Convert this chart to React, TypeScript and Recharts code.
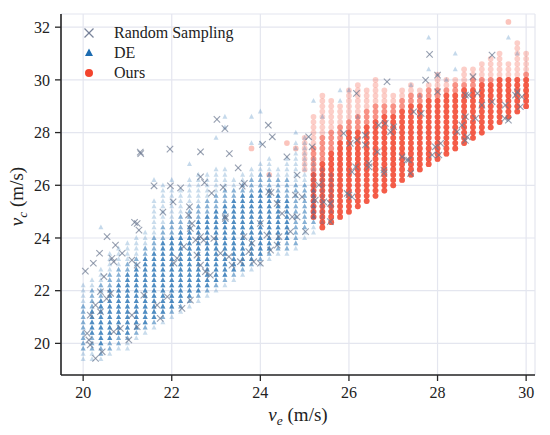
import React from 'react';
import { ScatterChart, Scatter, XAxis, YAxis, CartesianGrid, Legend } from 'recharts';

const X_TICKS = [20, 22, 24, 26, 28, 30];
const Y_TICKS = [20, 22, 24, 26, 28, 30, 32];
const GRID_STEP = 0.2;

// DE: grid columns (x) with lowest / highest y of the light, medium and dense parts
const DE_COL_X = [20.0, 20.2, 20.4, 20.6, 20.8, 21.0, 21.2, 21.4, 21.6, 21.8, 22.0, 22.2, 22.4, 22.6, 22.8, 23.0, 23.2, 23.4, 23.6, 23.8, 24.0, 24.2, 24.4, 24.6, 24.8, 25.0, 25.2, 25.4, 25.6];
const DE_LO = [19.4, 19.4, 19.4, 19.6, 19.8, 19.8, 20.2, 20.4, 20.6, 20.8, 21.0, 21.2, 21.4, 21.6, 21.8, 22.0, 22.2, 22.4, 22.6, 22.8, 23.0, 23.2, 23.4, 23.4, 23.6, 24.0, 24.2, 24.6, 25.0];
const DE_HI = [22.2, 22.4, 22.8, 23.4, 23.6, 23.8, 24.0, 24.2, 25.4, 26.0, 25.8, 25.8, 26.2, 26.4, 26.4, 26.6, 26.6, 26.2, 26.4, 26.6, 26.8, 27.0, 26.6, 27.0, 27.6, 27.8, 27.0, 26.6, 26.4];
const DE_MID_LO = [19.8, 19.8, 19.6, 19.8, 20.0, 20.2, 20.4, 20.6, 20.8, 21.0, 21.2, 21.4, 21.6, 21.8, 22.0, 22.2, 22.4, 22.6, 22.8, 23.0, 23.2, 23.4, 23.6, 23.6, 23.8, 24.4, 24.6, null, null];
const DE_MID_HI = [21.4, 22.0, 22.2, 22.6, 22.8, 23.0, 23.2, 23.6, 24.0, 24.4, 24.6, 24.8, 25.0, 25.2, 25.4, 25.6, 25.8, 25.8, 26.0, 26.2, 26.4, 26.4, 26.2, 26.2, 26.0, 26.0, 25.8, null, null];
const DE_CORE_LO = [null, 20.4, 20.0, 20.2, 20.4, 20.4, 20.6, 20.8, 21.0, 21.2, 21.4, 21.6, 21.8, 22.0, 22.2, 22.4, 22.6, 22.8, 23.0, 23.2, 23.4, 23.6, 23.8, 24.0, null, null, null, null, null];
const DE_CORE_HI = [null, 21.2, 21.6, 22.0, 22.2, 22.6, 22.8, 23.2, 23.4, 23.8, 24.0, 24.2, 24.4, 24.6, 24.8, 25.0, 25.2, 25.4, 25.6, 25.6, 25.8, 25.8, 25.6, 25.4, null, null, null, null, null];
const DE_EXTRA_X = [20.4, 21.6, 22.4, 22.0, 23.0, 23.2, 23.2, 23.8, 23.8, 24.0, 24.0, 24.8, 25.2, 25.4, 25.8, 25.8, 26.2, 26.0, 27.4, 27.6, 27.8, 27.8, 28.0, 28.2, 28.4, 28.4, 29.6, 29.8];
const DE_EXTRA_Y = [24.4, 26.2, 26.8, 26.2, 27.8, 28.6, 28.2, 28.6, 27.6, 28.8, 27.6, 28.0, 29.2, 28.6, 29.6, 29.2, 28.6, 29.6, 29.8, 29.4, 31.6, 30.4, 30.2, 30.0, 31.0, 30.4, 31.6, 31.0];

// Ours: grid columns
const OURS_COL_X = [25.0, 25.2, 25.4, 25.6, 25.8, 26.0, 26.2, 26.4, 26.6, 26.8, 27.0, 27.2, 27.4, 27.6, 27.8, 28.0, 28.2, 28.4, 28.6, 28.8, 29.0, 29.2, 29.4, 29.6, 29.8, 30.0];
const OURS_LO = [26.6, 24.8, 24.4, 24.6, 24.8, 25.0, 25.2, 25.4, 25.6, 25.8, 26.0, 26.2, 26.4, 26.6, 26.8, 27.0, 27.2, 27.4, 27.6, 27.8, 28.0, 28.2, 28.4, 28.6, 28.8, 29.0];
const OURS_HI = [27.8, 28.6, 29.4, 29.2, 29.0, 29.6, 29.8, 29.6, 30.0, 29.6, 29.4, 29.6, 29.8, 29.6, 29.8, 30.2, 30.0, 30.0, 30.4, 30.4, 30.6, 30.8, 31.0, 30.6, 31.4, 31.0];
const OURS_MID_HI = [null, 27.4, 27.8, 28.0, 28.2, 28.4, 28.6, 28.8, 29.0, 29.0, 29.0, 29.2, 29.4, 29.4, 29.6, 29.6, 29.6, 29.8, 29.8, 30.0, 30.0, 30.0, 30.0, 30.0, 30.0, 30.2];
const OURS_CORE_HI = [null, 26.4, 26.8, 27.2, 27.6, 28.0, 28.0, 28.2, 28.4, 28.6, 28.6, 28.8, 29.0, 29.0, 29.2, 29.2, 29.4, 29.4, 29.6, 29.6, 29.8, 29.8, 30.0, 30.0, 30.0, 30.0];
const OURS_EXTRA_X = [23.8, 24.2, 24.6, 24.8, 29.6];
const OURS_EXTRA_Y = [27.4, 26.4, 27.6, 27.4, 32.2];

// Random Sampling
const RS_X = [20.05, 20.23, 20.37, 20.54, 20.73, 20.88, 20.69, 21.16, 21.22, 21.1, 21.22, 20.47, 20.39, 20.62, 20.53, 20.28, 20.39, 20.16, 20.09, 20.13, 20.16, 20.28, 20.43, 20.69, 20.84, 21.03, 21.1, 21.22, 21.37, 21.67, 21.9, 21.74, 22.05, 22.12, 22.27, 22.23, 22.42, 22.65, 22.76, 22.87, 22.57, 22.72, 22.95, 22.42, 23.21, 23.55, 23.74, 23.85, 24.15, 20.65, 21.26,
  21.29, 21.3, 21.96, 23.02, 23.2, 23.3, 22.65, 21.6, 21.97, 22.2, 22.03, 21.8, 22.65, 22.74, 22.9, 23.16, 23.5, 23.64, 24.05, 24.18, 24.27, 24.24, 22.4, 22.38, 22.46, 23.21, 22.65, 22.54, 23.1, 23.29, 23.36, 23.81, 24.0, 23.63, 24.0, 24.42, 24.23, 24.38, 23.59, 24.19, 24.38, 24.68, 24.83,
  26.17, 26.86, 27.82, 27.73, 28.0, 28.0, 29.23, 28.8, 28.7, 29.0, 29.6, 29.8, 29.87, 28.63, 28.67, 28.44, 27.95, 27.88, 27.63, 27.46, 27.35, 27.39, 27.2, 27.01, 26.82, 26.67, 26.64, 26.79, 26.45, 26.37, 26.18, 26.03, 25.88, 26.15, 26.07, 25.96, 25.17, 25.09, 25.32, 25.24, 25.58, 24.6, 24.83, 24.49,
  28.63, 28.9, 29.23, 29.53, 29.76, 29.9, 29.52, 28.86, 28.55, 28.63, 28.03, 28.07, 26.37, 26.94, 26.45, 26.79, 27.31, 26.07, 26.0, 25.43, 25.58, 24.79, 24.94, 24.72, 25.02];
const RS_Y = [22.74, 23.04, 23.42, 24.05, 23.73, 23.42, 23.1, 24.59, 24.55, 23.16, 22.97, 22.53, 21.96, 21.9, 21.7, 21.45, 21.2, 21.07, 20.38, 20.13, 19.94, 19.43, 19.68, 20.44, 20.57, 20.13, 21.07, 20.63, 21.83, 21.45, 21.77, 20.95, 23.04, 23.23, 23.67, 21.33, 21.64, 22.97, 22.72, 22.59, 23.35, 23.92, 23.98, 24.36, 24.74, 23.1, 23.48, 23.1, 24.11, 23.23, 24.3,
  27.26, 27.2, 27.37, 28.5, 28.15, 27.2, 27.27, 25.98, 25.98, 25.9, 25.37, 24.98, 26.32, 26.1, 25.7, 25.92, 26.66, 26.07, 27.55, 28.28, 27.84, 25.72, 25.18, 24.87, 24.55, 24.8, 24.05, 23.92, 23.42, 23.29, 22.97, 23.8, 23.04, 24.05, 24.55, 24.05, 23.54, 23.73, 25.97, 25.75, 25.31, 24.24, 24.8,
  29.49, 29.93, 30.97, 29.99, 30.18, 29.55, 30.94, 30.12, 29.42, 29.04, 28.47, 29.55, 28.98, 28.6, 27.84, 28.03, 27.46, 27.15, 28.73, 28.79, 26.96, 26.45, 27.08, 28.22, 28.35, 28.28, 27.27, 26.45, 26.83, 27.9, 27.71, 27.59, 27.97, 26.7, 25.56, 25.69, 27.46, 27.84, 26.01, 25.44, 25.31, 27.08, 26.39, 24.93,
  29.42, 29.49, 29.17, 29.04, 29.42, 29.36, 28.54, 28.54, 28.28, 27.7, 27.15, 27.59, 27.53, 28.03, 26.7, 26.58, 26.96, 26.51, 25.63, 25.37, 24.62, 25.63, 25.56, 24.8, 24.24];

const LEGEND_ITEMS = [
  { label: 'Random Sampling', kind: 'x' },
  { label: 'DE', kind: 'tri' },
  { label: 'Ours', kind: 'circle' },
];

const BLUE = '#1d6cb1';
const RED = '#f23a22';
const GRAY = '#6b7890';
const FONT = '"Liberation Serif", "Times New Roman", serif';

function columnPoints(xs: number[], lo: (number | null)[], hi: (number | null)[]) {
  const pts: { x: number; y: number }[] = [];
  xs.forEach((x, i) => {
    const a = lo[i];
    const b = hi[i];
    if (a == null || b == null) return;
    const n = Math.round((b - a) / GRID_STEP);
    for (let k = 0; k <= n; k++) pts.push({ x, y: +(a + k * GRID_STEP).toFixed(1) });
  });
  return pts;
}

function pairPoints(xs: number[], ys: number[]) {
  return xs.map((x, i) => ({ x, y: ys[i] }));
}

const deAll = columnPoints(DE_COL_X, DE_LO, DE_HI);
const deMid = columnPoints(DE_COL_X, DE_MID_LO, DE_MID_HI);
const deCore = columnPoints(DE_COL_X, DE_CORE_LO, DE_CORE_HI);
const deExtra = pairPoints(DE_EXTRA_X, DE_EXTRA_Y);
const oursAll = columnPoints(OURS_COL_X, OURS_LO, OURS_HI);
const oursMid = columnPoints(OURS_COL_X, OURS_LO, OURS_MID_HI);
const oursCore = columnPoints(OURS_COL_X, OURS_LO, OURS_CORE_HI);
const oursExtra = pairPoints(OURS_EXTRA_X, OURS_EXTRA_Y);
const rsPts = pairPoints(RS_X, RS_Y);

const triShape = (op: number) => (p: any) => {
  const { cx, cy } = p;
  if (cx == null || cy == null) return <g />;
  return <path d={`M${cx},${cy - 2.9} L${cx + 2.5},${cy + 1.9} L${cx - 2.5},${cy + 1.9} Z`} fill={BLUE} fillOpacity={op} />;
};
const circShape = (op: number) => (p: any) => {
  const { cx, cy } = p;
  if (cx == null || cy == null) return <g />;
  return <circle cx={cx} cy={cy} r={2.85} fill={RED} fillOpacity={op} />;
};
const xShape = (p: any) => {
  const { cx, cy } = p;
  if (cx == null || cy == null) return <g />;
  const s = 3.2;
  return (
    <g stroke={GRAY} strokeOpacity={0.7} strokeWidth={1.1}>
      <line x1={cx - s} y1={cy - s} x2={cx + s} y2={cy + s} />
      <line x1={cx - s} y1={cy + s} x2={cx + s} y2={cy - s} />
    </g>
  );
};

const renderLegend = () => (
  <svg width={160} height={62} style={{ display: 'block' }}>
    {LEGEND_ITEMS.map((it, i) => {
      const cy = 10 + i * 20;
      const cx = 9;
      let marker;
      if (it.kind === 'x') {
        marker = (
          <g stroke={GRAY} strokeWidth={1.3} strokeOpacity={0.9}>
            <line x1={cx - 4.5} y1={cy - 4.5} x2={cx + 4.5} y2={cy + 4.5} />
            <line x1={cx - 4.5} y1={cy + 4.5} x2={cx + 4.5} y2={cy - 4.5} />
          </g>
        );
      } else if (it.kind === 'tri') {
        marker = <path d={`M${cx},${cy - 4.5} L${cx + 4},${cy + 3} L${cx - 4},${cy + 3} Z`} fill={BLUE} />;
      } else {
        marker = <circle cx={cx} cy={cy} r={4} fill={RED} fillOpacity={0.95} />;
      }
      return (
        <g key={it.label}>
          {marker}
          <text x={34} y={cy + 5} fontFamily={FONT} fontSize={16} fill="#222">{it.label}</text>
        </g>
      );
    })}
  </svg>
);

const XLabel = (props: any) => {
  const vb = props.viewBox || { x: 61, y: 367, width: 474, height: 45 };
  const x = vb.x + vb.width / 2;
  const y = vb.y + 45.5;
  return (
    <text x={x} y={y} textAnchor="middle" fontFamily={FONT} fontSize={19} fill="#222">
      <tspan fontStyle="italic">v</tspan>
      <tspan fontStyle="italic" fontSize={13.5} dy={4}>e</tspan>
      <tspan dy={-4}>{'\u00A0(m/s)'}</tspan>
    </text>
  );
};

const YLabel = (props: any) => {
  const vb = props.viewBox || { x: 8, y: 6, width: 53, height: 361 };
  const x = vb.x + 14.7;
  const y = vb.y + vb.height / 2 + 2;
  return (
    <text x={x} y={y} transform={`rotate(-90 ${x} ${y})`} textAnchor="middle" fontFamily={FONT} fontSize={19} fill="#222">
      <tspan fontStyle="italic">v</tspan>
      <tspan fontStyle="italic" fontSize={13.5} dy={4}>c</tspan>
      <tspan dy={-4}>{'\u00A0(m/s)'}</tspan>
    </text>
  );
};

const tickStyle = { fontFamily: FONT, fontSize: 16, fill: '#222' };

export default function App() {
  return (
    <div style={{ marginLeft: -8, width: 542 }}>
      <ScatterChart width={542} height={419} margin={{ top: 6, right: 7, bottom: 7, left: 8 }}>
        <CartesianGrid stroke="#e4e6ef" strokeWidth={1.2} />
        <XAxis
          type="number"
          dataKey="x"
          domain={[19.5, 30.2]}
          ticks={X_TICKS}
          interval={0}
          allowDataOverflow
          height={45}
          tick={tickStyle}
          tickSize={6}
          tickMargin={6}
          axisLine={{ stroke: '#262626', strokeWidth: 1.6 }}
          tickLine={{ stroke: '#262626', strokeWidth: 1.3 }}
          label={{ content: XLabel } as any}
        />
        <YAxis
          type="number"
          dataKey="y"
          domain={[18.8, 32.5]}
          ticks={Y_TICKS}
          interval={0}
          allowDataOverflow
          width={53}
          tick={tickStyle}
          tickSize={6}
          tickMargin={5}
          axisLine={{ stroke: '#262626', strokeWidth: 1.6 }}
          tickLine={{ stroke: '#262626', strokeWidth: 1.3 }}
          label={{ content: YLabel } as any}
        />
        <Legend
          layout="vertical"
          align="center"
          verticalAlign="middle"
          content={renderLegend}
          wrapperStyle={{ left: 80, top: 15, width: 160 }}
        />
        <Scatter name="Ours light" data={oursAll} shape={circShape(0.25)} isAnimationActive={false} legendType="none" />
        <Scatter name="Ours mid" data={oursMid} shape={circShape(0.4)} isAnimationActive={false} legendType="none" />
        <Scatter name="Ours" data={oursCore} shape={circShape(0.6)} isAnimationActive={false} legendType="none" />
        <Scatter name="Ours extra" data={oursExtra} shape={circShape(0.3)} isAnimationActive={false} legendType="none" />
        <Scatter name="DE light" data={deAll} shape={triShape(0.24)} isAnimationActive={false} legendType="none" />
        <Scatter name="DE mid" data={deMid} shape={triShape(0.38)} isAnimationActive={false} legendType="none" />
        <Scatter name="DE" data={deCore} shape={triShape(0.52)} isAnimationActive={false} legendType="none" />
        <Scatter name="DE extra" data={deExtra} shape={triShape(0.26)} isAnimationActive={false} legendType="none" />
        <Scatter name="Random Sampling" data={rsPts} shape={xShape} isAnimationActive={false} legendType="none" />
      </ScatterChart>
    </div>
  );
}
